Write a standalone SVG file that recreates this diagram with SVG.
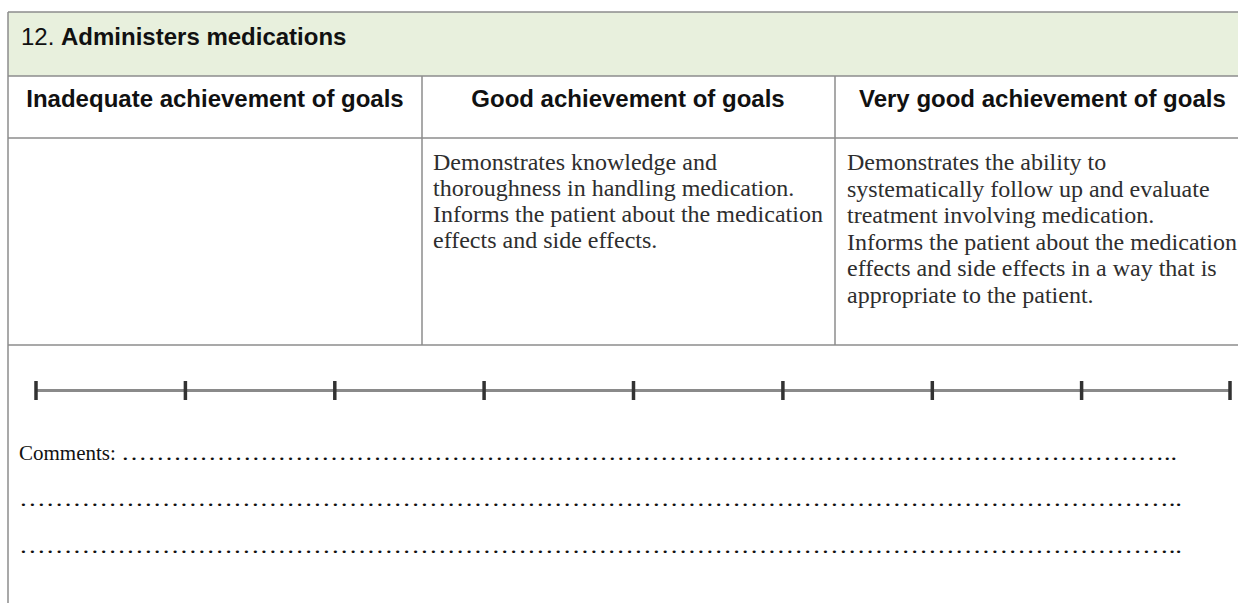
<svg xmlns="http://www.w3.org/2000/svg" width="1238" height="603" viewBox="0 0 1238 603">
<defs>
<style>
.grid{stroke:#8c8c8c;stroke-width:1.5;fill:none}
.hd{font-family:"Liberation Sans",Arial,sans-serif;font-weight:bold;font-size:24px;fill:#111}
.ttl{font-family:"Liberation Sans",Arial,sans-serif;font-size:24px;fill:#111}
.body{font-family:"Liberation Serif","Times New Roman",serif;font-size:24px;fill:#2e2e2e}
.cm{font-family:"Liberation Serif","Times New Roman",serif;font-size:21px;fill:#111}
.tick{stroke:#333;stroke-width:3.5}
</style>
<filter id="soft" filterUnits="userSpaceOnUse" x="0" y="370" width="1238" height="40"><feGaussianBlur stdDeviation="0.7"/></filter>
</defs>
<rect width="1238" height="603" fill="#ffffff"/>
<g id="header">
<rect x="8" y="12" width="1230" height="64" fill="#e8f0dd"/>
<text class="ttl" x="21" y="45">12. <tspan font-weight="bold">Administers medications</tspan></text>
</g>
<g id="grid">
<line class="grid" x1="8" y1="12" x2="1238" y2="12"/>
<line class="grid" x1="8" y1="12" x2="8" y2="603"/>
<line class="grid" x1="8" y1="76" x2="1238" y2="76"/>
<line class="grid" x1="8" y1="138" x2="1238" y2="138"/>
<line class="grid" x1="8" y1="345" x2="1238" y2="345"/>
<line class="grid" x1="422" y1="76" x2="422" y2="345"/>
<line class="grid" x1="835" y1="76" x2="835" y2="345"/>
</g>
<g id="col-inadequate">
<text class="hd" x="215" y="107" text-anchor="middle">Inadequate achievement of goals</text>
</g>
<g id="col-good">
<text class="hd" x="628" y="107" text-anchor="middle">Good achievement of goals</text>
<text class="body" x="433" y="170">Demonstrates knowledge and</text>
<text class="body" x="433" y="196">thoroughness in handling medication.</text>
<text class="body" x="433" y="222">Informs the patient about the medication</text>
<text class="body" x="433" y="248">effects and side effects.</text>
</g>
<g id="col-verygood">
<text class="hd" x="859" y="107">Very good achievement of goals</text>
<text class="body" x="847" y="170">Demonstrates the ability to</text>
<text class="body" x="847" y="196.5">systematically follow up and evaluate</text>
<text class="body" x="847" y="223">treatment involving medication.</text>
<text class="body" x="847" y="249.5">Informs the patient about the medication</text>
<text class="body" x="847" y="276">effects and side effects in a way that is</text>
<text class="body" x="847" y="302.5">appropriate to the patient.</text>
</g>
<g id="scale" filter="url(#soft)">
<rect x="36" y="389" width="1195" height="3" fill="#8a8a8a"/>
<line class="tick" x1="36" y1="381" x2="36" y2="400"/>
<line class="tick" x1="185.4" y1="381" x2="185.4" y2="400"/>
<line class="tick" x1="334.8" y1="381" x2="334.8" y2="400"/>
<line class="tick" x1="484.1" y1="381" x2="484.1" y2="400"/>
<line class="tick" x1="633.5" y1="381" x2="633.5" y2="400"/>
<line class="tick" x1="782.9" y1="381" x2="782.9" y2="400"/>
<line class="tick" x1="932.3" y1="381" x2="932.3" y2="400"/>
<line class="tick" x1="1081.6" y1="381" x2="1081.6" y2="400"/>
<line class="tick" x1="1230" y1="381" x2="1230" y2="400"/>
</g>
<g id="comments">
<text class="cm" x="19" y="460">Comments: <tspan textLength="1056" lengthAdjust="spacingAndGlyphs">…………………………………………………………………………………………………………..</tspan></text>
<text class="cm" x="19" y="506" textLength="1163" lengthAdjust="spacingAndGlyphs">…………………………………………………………………………………………………………………..</text>
<text class="cm" x="19" y="553" textLength="1163" lengthAdjust="spacingAndGlyphs">…………………………………………………………………………………………………………………..</text>
</g>
</svg>
